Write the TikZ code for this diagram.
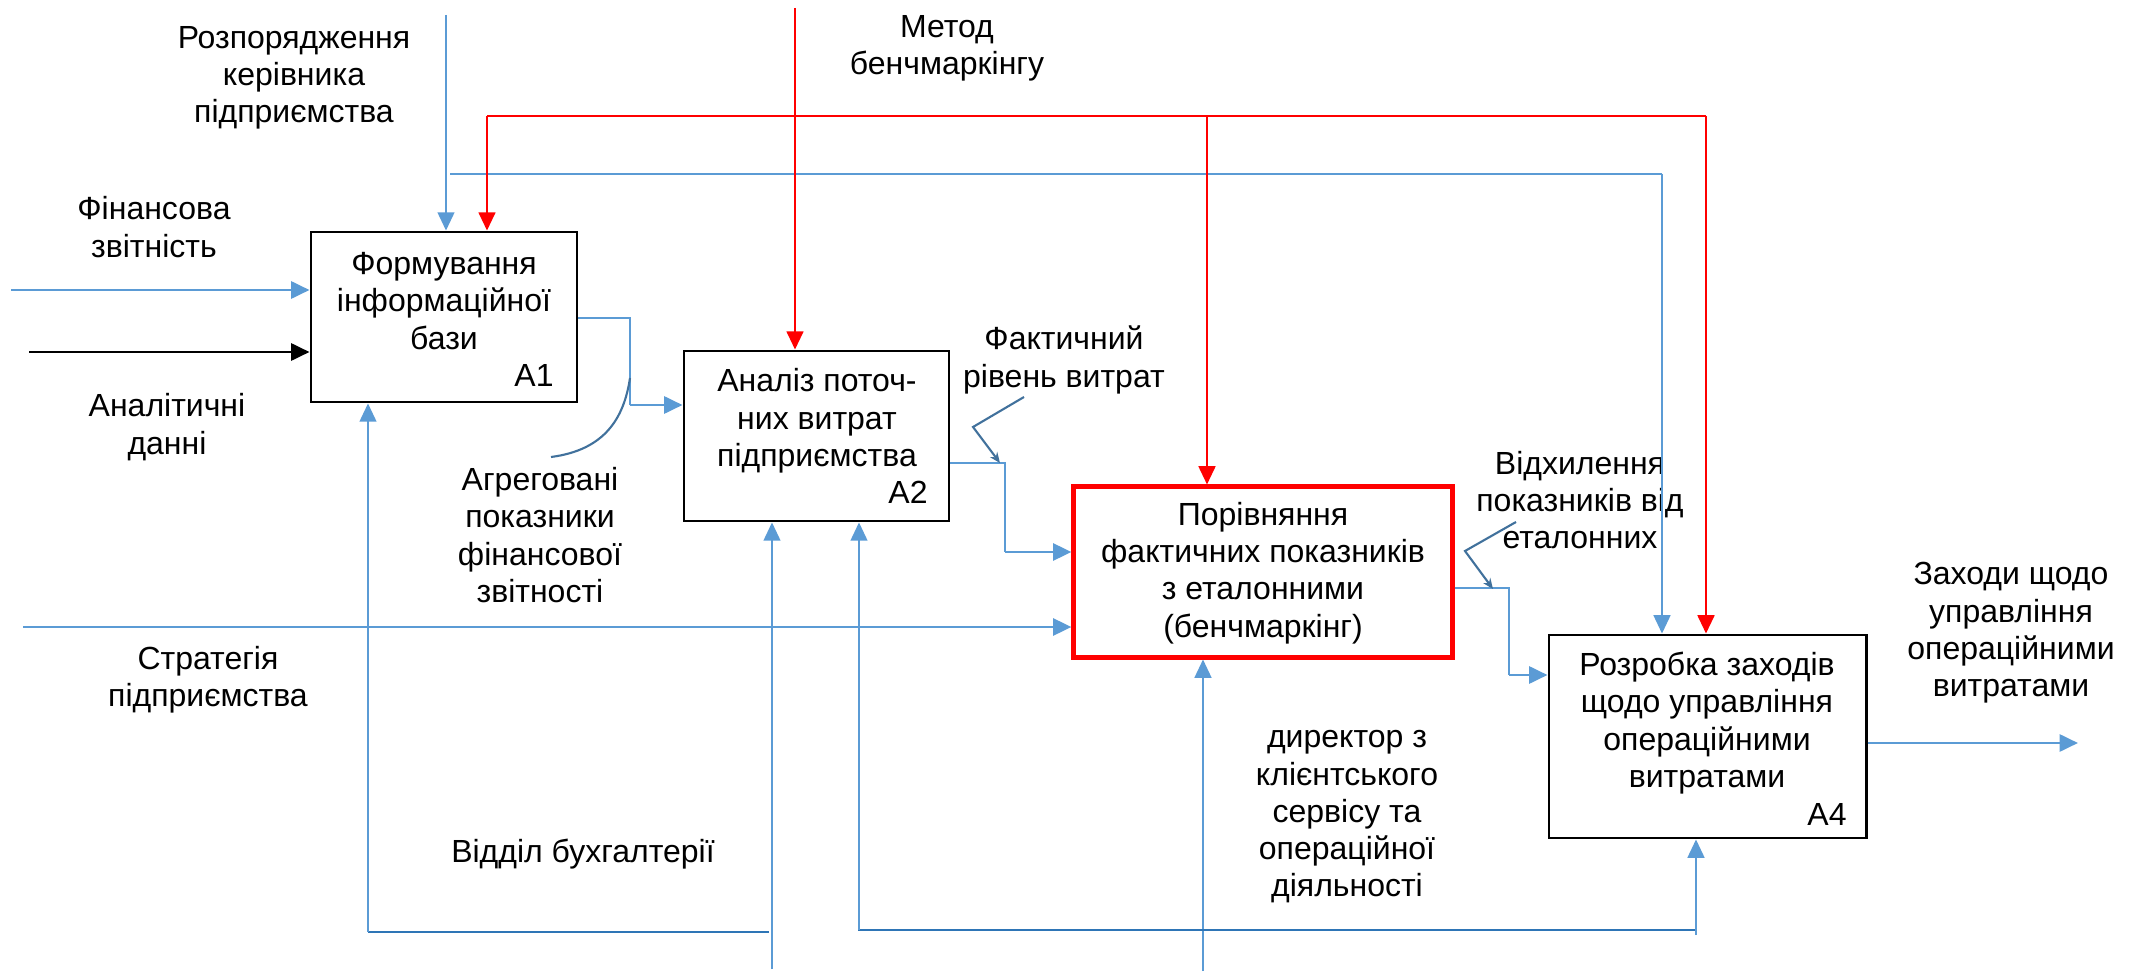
\documentclass[tikz,border=0pt]{standalone}
\usepackage{fontspec}
\setmainfont{Liberation Sans}
\usetikzlibrary{arrows.meta}
\definecolor{lblue}{HTML}{5B9BD5}
\definecolor{dblue}{HTML}{2E75B6}
\definecolor{sblue}{HTML}{41719C}

\begin{document}
\begin{tikzpicture}[x=0.01cm, y=-0.01cm,
    font=\fontsize{9.1}{10.6}\selectfont,
    fbox/.style={draw, line width=0.8pt, inner sep=0pt, minimum height=1.7cm},
    txt/.style={align=center, inner sep=0pt},
    tip/.style={-{Triangle[length=5.2pt,width=4.8pt]}},
    flow/.style={draw=lblue, line width=0.85pt, tip},
    vflow/.style={draw=lblue, line width=0.5pt, tip},
    thinline/.style={draw=lblue, line width=0.45pt},
    mech/.style={draw=dblue, line width=0.65pt},
    redflow/.style={draw=red, line width=0.6pt, tip},
    squig/.style={draw=sblue, line width=0.6pt}
  ]
  \useasboundingbox (0,0) rectangle (2132,976);

  % function boxes
  \node[fbox, minimum width=2.66cm] (A1) at (444,317) {};
  \node[fbox, minimum width=2.65cm] (A2) at (816.5,436) {};
  \node[fbox, draw=red, line width=1.4pt, minimum width=3.78cm] (A3) at (1263,572) {};
  \node[fbox, minimum width=3.17cm, minimum height=2.03cm] (A4) at (1707.5,736.5) {};

  \node[txt] (A1t) at (444,301) {Формування\\інформаційної\\бази};
  \node[txt] (A2t) at (817,421) {Аналіз поточ-\\них витрат\\підприємства};
  \node[txt] (A3t) at (1263,573) {Порівняння\\фактичних показників\\з еталонними\\(бенчмаркінг)};
  \node[txt] (A4t) at (1707,723) {Розробка заходів\\щодо управління\\операційними\\витратами};
  \node[txt] (A1n) at (534,375) {A1};
  \node[txt] (A2n) at (908,492) {A2};
  \node[txt] (A4n) at (1827,814) {A4};

  % labels
  \node[txt] (rozp) at (294,78) {Розпорядження\\керівника\\підприємства};
  \node[txt] (fin) at (154,227) {Фінансова\\звітність};
  \node[txt] (anal) at (167,427) {Аналітичні\\данні};
  \node[txt] (metod) at (947,48) {Метод\\бенчмаркінгу};
  \node[txt] (agr) at (540,535) {Агреговані\\показники\\фінансової\\звітності};
  \node[txt] (fakt) at (1064,360) {Фактичний\\рівень витрат};
  \node[txt] (strat) at (208,680) {Стратегія\\підприємства};
  \node[txt] (viddil) at (583,854) {Відділ бухгалтерії};
  \node[txt] (dir) at (1347,817) {директор з\\клієнтського\\сервісу та\\операційної\\діяльності};
  \node[txt] (vidh) at (1580,500) {Відхилення\\показників від\\еталонних};
  \node[txt] (zah) at (2011,633) {Заходи щодо\\управління\\операційними\\витратами};

  % free ends
  \coordinate (finS) at (11,290);
  \coordinate (anS) at (29,352);
  \coordinate (stratS) at (23,627);
  \coordinate (rozS) at (446,15);
  \coordinate (metS) at (795,8);
  \coordinate (busL) at (487,116);
  \coordinate (busR) at (1706,116);
  \coordinate (tunL) at (450,174);
  \coordinate (tunR) at (1662,174);
  \coordinate (vidS) at (772,969);
  \coordinate (dirS) at (1203,971);
  \coordinate (outE) at (2078,743);

  % inputs and output
  \draw[flow] (finS) -- (finS -| A1.west);
  \draw[line width=0.85pt, tip] (anS) -- (anS -| A1.west);
  \draw[flow] (stratS) -- (stratS -| A3.west);
  \draw[flow] (outE -| A4.east) -- (outE);

  % controls
  \draw[vflow] (rozS) -- (rozS |- A1.north);
  \draw[thinline] (tunL) -- (tunR);
  \draw[vflow] (tunR) -- (tunR |- A4.north);
  \draw[redflow] (metS) -- (metS |- A2.north);
  \draw[draw=red, line width=0.6pt] (busL) -- (busR);
  \draw[redflow] (busL) -- (busL |- A1.north);
  \draw[redflow] (1207,116) -- (1207,116 |- A3.north);
  \draw[redflow] (busR) -- (busR |- A4.north);

  % links between boxes
  \draw[thinline] (A1.east |- 0,318) -- (630,318) -- (630,405);
  \draw[flow] (630,405) -- (630,405 -| A2.west);
  \draw[thinline] (A2.east |- 0,463) -- (1005,463) -- (1005,552);
  \draw[flow] (1005,552) -- (1005,552 -| A3.west);
  \draw[thinline] (A3.east |- 0,588) -- (1509,588) -- (1509,675);
  \draw[flow] (1509,675) -- (1509,675 -| A4.west);

  % squiggles
  \draw[squig] (630,378) .. controls (624,418) and (605,450) .. (551,457);
  \draw[squig, -{Stealth[length=3pt,width=2.5pt]}] (1024,397) -- (973,427) -- (1000,463);
  \draw[squig, -{Stealth[length=3pt,width=2.5pt]}] (1516,522) -- (1465,551) -- (1493,589);

  % mechanisms
  \draw[vflow] (vidS) -- (vidS |- A2.south);
  \draw[mech] (769,932) -- (368,932);
  \draw[vflow] (368,932) -- (368,932 |- A1.south);
  \draw[vflow] (dirS) -- (dirS |- A3.south);
  \draw[mech] (858,930) -- (1696,930);
  \draw[vflow] (859,930) -- (859,930 |- A2.south);
  \draw[vflow] (1696,935) -- (1696,935 |- A4.south);
\end{tikzpicture}
\end{document}
